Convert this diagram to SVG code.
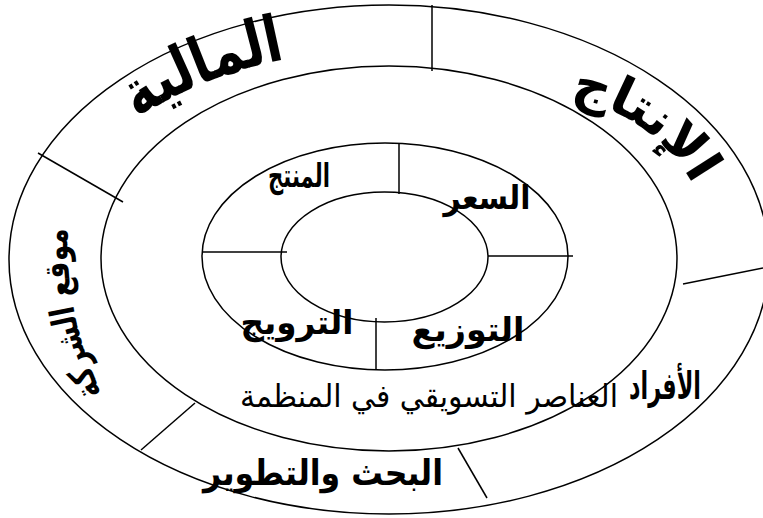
<svg xmlns="http://www.w3.org/2000/svg" width="763" height="518" viewBox="0 0 763 518">
<style>
.ring{fill:none;stroke:#000;stroke-width:1.5}
.sep{stroke:#000;stroke-width:1.5;fill:none}
.lbl{font-family:"DejaVu Sans","Noto Sans",sans-serif;fill:#000;text-anchor:middle}
.b{font-weight:bold}
</style>
<defs>
<path id="pMaliya" d="M 90.6 160.5 A 338 210 0 0 1 347.8 50.6"/>
<path id="pIntaj" d="M 532 96 A 175 175 0 0 1 712 234"/>
<path id="pMawqi" d="M 108 405 Q 62 320 68 215"/>
</defs>
<rect width="763" height="518" fill="#fff"/>
<g id="outer-ring"><ellipse class="ring" cx="389" cy="259.5" rx="380" ry="254.5"/></g>
<g id="middle-ring"><ellipse class="ring" cx="389" cy="258.5" rx="288" ry="192.5"/></g>
<g id="inner-ring"><ellipse class="ring" cx="385" cy="256.5" rx="183" ry="113.5"/></g>
<g id="core"><ellipse class="ring" cx="384.5" cy="257" rx="103.5" ry="65"/></g>
<g id="connectors">
<line class="sep" x1="432" y1="5" x2="432" y2="71"/>
<line class="sep" x1="683" y1="284" x2="763" y2="268"/>
<line class="sep" x1="38" y1="153" x2="123" y2="202"/>
<line class="sep" x1="195" y1="403" x2="141" y2="450"/>
<line class="sep" x1="458" y1="448" x2="487" y2="498"/>
<line class="sep" x1="399" y1="143" x2="399" y2="194"/>
<line class="sep" x1="202" y1="252" x2="287" y2="252"/>
<line class="sep" x1="488" y1="256" x2="573" y2="256"/>
<line class="sep" x1="376" y1="318" x2="376" y2="370"/>
</g>
<g id="label-maliya"><text class="lbl b" font-size="64"><textPath href="#pMaliya" startOffset="50%" textLength="160" lengthAdjust="spacingAndGlyphs">المالية</textPath></text></g>
<g id="label-intaj"><text class="lbl b" font-size="52"><textPath href="#pIntaj" startOffset="47%" textLength="155" lengthAdjust="spacingAndGlyphs">الإنتاج</textPath></text></g>
<g id="label-mawqi"><text class="lbl b" font-size="34"><textPath href="#pMawqi" startOffset="50%" textLength="170" lengthAdjust="spacingAndGlyphs">موقع الشركة</textPath></text></g>
<g id="label-afrad"><text class="lbl b" x="665" y="399" font-size="38" textLength="72" lengthAdjust="spacingAndGlyphs">الأفراد</text></g>
<g id="label-title"><text class="lbl" x="429" y="407" font-size="31" textLength="378" lengthAdjust="spacingAndGlyphs">العناصر التسويقي في المنظمة</text></g>
<g id="label-bahth"><text class="lbl b" x="323" y="485" font-size="35" textLength="240" lengthAdjust="spacingAndGlyphs">البحث والتطوير</text></g>
<g id="label-muntaj"><text class="lbl b" x="299" y="187" font-size="33" textLength="62" lengthAdjust="spacingAndGlyphs">المنتج</text></g>
<g id="label-siar"><text class="lbl b" x="487" y="209" font-size="33" textLength="87" lengthAdjust="spacingAndGlyphs">السعر</text></g>
<g id="label-tarwij"><text class="lbl b" x="297" y="334" font-size="33" textLength="113" lengthAdjust="spacingAndGlyphs">الترويج</text></g>
<g id="label-tawzi"><text class="lbl b" x="468" y="341" font-size="33" textLength="113" lengthAdjust="spacingAndGlyphs">التوزيع</text></g>
</svg>
